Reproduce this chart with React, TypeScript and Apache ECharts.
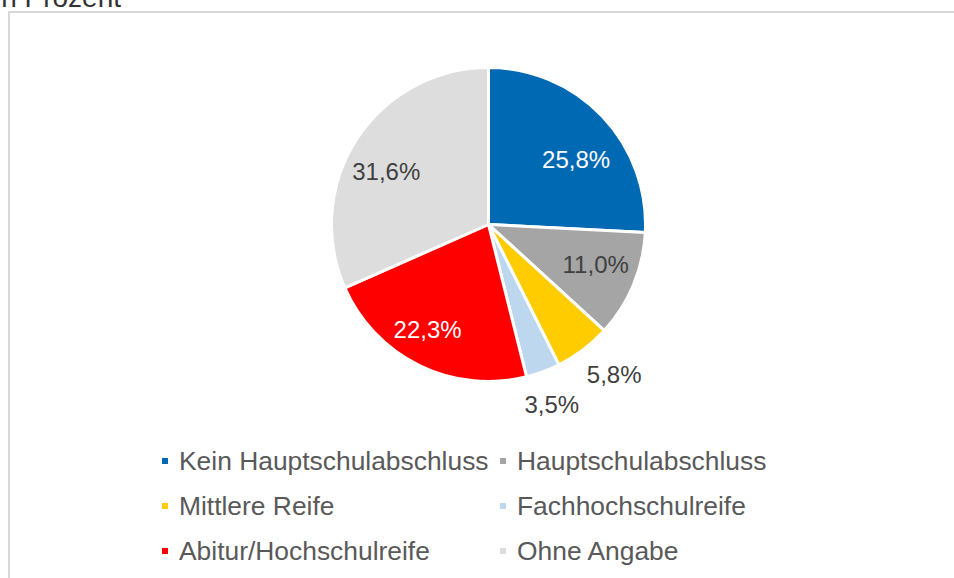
import React, { useEffect, useRef } from "react";
import * as echarts from "echarts";

const categories = [
  "Kein Hauptschulabschluss",
  "Hauptschulabschluss",
  "Mittlere Reife",
  "Fachhochschulreife",
  "Abitur/Hochschulreife",
  "Ohne Angabe",
];
const values = [25.8, 11.0, 5.8, 3.5, 22.3, 31.6];
const colors = ["#0069B4", "#A5A5A5", "#FFCC00", "#BDD7EE", "#FF0000", "#DDDDDD"];
const labelColors = ["#FFFFFF", "#404040", "#404040", "#404040", "#FFFFFF", "#404040"];
const labelOffsets: [number, number][] = [
  [28.5, -9],
  [32, 9],
  [76.5, 84.5],
  [35, 103.5],
  [-25, 31.5],
  [-34, -8],
];
const leftLegend = [categories[0], categories[2], categories[4]];
const rightLegend = [categories[1], categories[3], categories[5]];
const titleText = "in Prozent";

const FONT = "'Liberation Sans', Arial, sans-serif";

export default function App() {
  const ref = useRef<HTMLDivElement>(null);
  useEffect(() => {
    if (!ref.current) return;
    const chart = echarts.init(ref.current, undefined, { renderer: "svg" });
    const legendBase = {
      orient: "vertical" as const,
      top: 446,
      padding: 0,
      itemWidth: 8,
      itemHeight: 8,
      icon: "rect",
      itemGap: 15,
      selectedMode: false,
      textStyle: {
        fontFamily: FONT,
        fontSize: 26.4,
        color: "#595959",
        lineHeight: 30,
        padding: [0, 0, 0, 5],
      },
    };
    chart.setOption({
      animation: false,
      textStyle: { fontFamily: FONT },
      graphic: [
        {
          type: "rect",
          shape: { x: 9, y: 12, width: 2000, height: 2000 },
          style: { fill: "none", stroke: "#D9D9D9", lineWidth: 2 },
          silent: true,
        },
        {
          type: "text",
          x: 121,
          y: 11,
          style: {
            text: titleText,
            fontFamily: FONT,
            fontSize: 28,
            fill: "#333333",
            align: "right",
            verticalAlign: "bottom",
          },
          silent: true,
        },
      ],
      legend: [
        { ...legendBase, left: 160, data: leftLegend },
        { ...legendBase, left: 498, data: rightLegend },
      ],
      series: [
        {
          type: "pie",
          center: [488.5, 224.5],
          radius: [0, 157],
          startAngle: 90,
          clockwise: true,
          avoidLabelOverlap: false,
          itemStyle: { borderColor: "#FFFFFF", borderWidth: 3 },
          emphasis: { disabled: true },
          labelLine: { show: false },
          data: categories.map((name, i) => ({
            name,
            value: values[i],
            itemStyle: { color: colors[i] },
            label: {
              show: true,
              position: "inside",
              offset: labelOffsets[i],
              color: labelColors[i],
              fontSize: 24,
              fontFamily: FONT,
              formatter: () => values[i].toFixed(1).replace(".", ",") + "%",
            },
          })),
        },
      ],
    });
    return () => chart.dispose();
  }, []);
  return (
    <div
      ref={ref}
      style={{ position: "fixed", left: 0, top: 0, width: 954, height: 578, background: "#fff" }}
    />
  );
}
